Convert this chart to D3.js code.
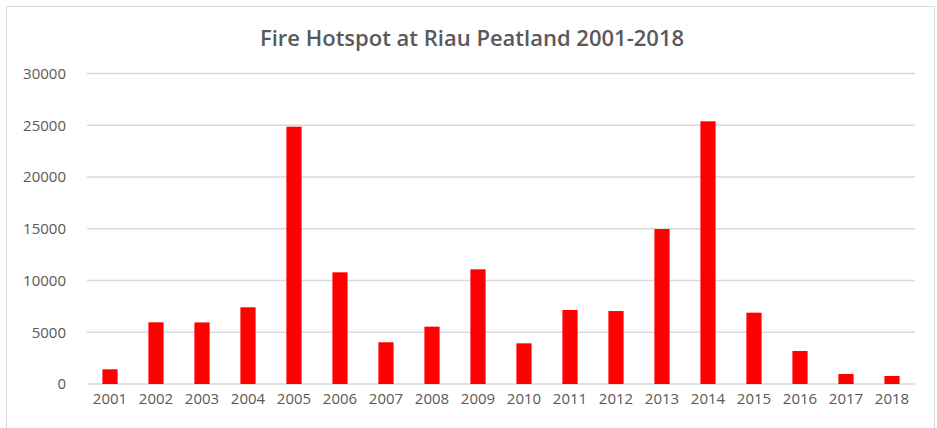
<!DOCTYPE html>
<html>
 <head>
    <style>
        body { margin: 0; background: #fff; }
        svg { display: block; }
        .tick text { font-family: "Open Sans", sans-serif; fill: #595959; }
    </style>
    <script src="https://d3js.org/d3.v7.min.js"></script>
 </head>
 <body>
    <div id="chart"></div>
    <script type="text/javascript">
        const years = ["2001","2002","2003","2004","2005","2006","2007","2008","2009",
                       "2010","2011","2012","2013","2014","2015","2016","2017","2018"];
        const hotspots = [1420, 5960, 5950, 7410, 24860, 10790, 4030, 5540, 11080,
                          3930, 7150, 7050, 14970, 25380, 6890, 3190, 970, 780];
        const yTicks = [0, 5000, 10000, 15000, 20000, 25000, 30000];
        const title = "Fire Hotspot at Riau Peatland 2001-2018";

        const W = 937, H = 428;
        const m = {top: 73.5, right: 22, bottom: 44, left: 87};

        const svg = d3.select("#chart").append("svg")
            .attr("width", W).attr("height", H);

        // chart area border
        svg.append("rect")
            .attr("x", 6.5).attr("y", 6.5)
            .attr("width", 928).attr("height", 440)
            .attr("fill", "none").attr("stroke", "#d9d9d9");

        const x = d3.scaleBand()
            .domain(years)
            .range([m.left, W - m.right])
            .paddingInner(0.67).paddingOuter(0.335);

        const y = d3.scaleLinear()
            .domain([0, 30000])
            .range([H - m.bottom, m.top]);

        // gridlines
        svg.append("g")
            .selectAll("line")
            .data(yTicks)
            .join("line")
            .attr("x1", m.left).attr("x2", W - m.right)
            .attr("y1", d => y(d)).attr("y2", d => y(d))
            .attr("stroke", "#d9d9d9").attr("stroke-width", 1.3);

        // y axis labels
        const yAxis = svg.append("g")
            .attr("transform", "translate(" + (m.left - 18) + ",0)")
            .call(d3.axisLeft(y).tickValues(yTicks).tickSize(0).tickFormat(d3.format("d")));
        yAxis.select(".domain").remove();
        yAxis.selectAll("text").attr("font-size", 15);

        // bars
        svg.append("g")
            .selectAll("rect")
            .data(hotspots)
            .join("rect")
            .attr("x", (d, i) => x(years[i]))
            .attr("y", d => y(d))
            .attr("width", x.bandwidth())
            .attr("height", d => y(0) - y(d))
            .attr("fill", "#ff0000");

        // x axis labels
        const xAxis = svg.append("g")
            .attr("transform", "translate(0," + (H - m.bottom + 6) + ")")
            .call(d3.axisBottom(x).tickSize(0));
        xAxis.select(".domain").remove();
        xAxis.selectAll("text").attr("font-size", 15).attr("dy", "0.71em");

        svg.append("text")
            .attr("x", 472).attr("y", 46)
            .attr("text-anchor", "middle")
            .attr("font-family", "Open Sans, sans-serif")
            .attr("font-weight", 600)
            .attr("font-size", 22)
            .attr("fill", "#595959")
            .text(title);
    </script>
 </body>
</html>
